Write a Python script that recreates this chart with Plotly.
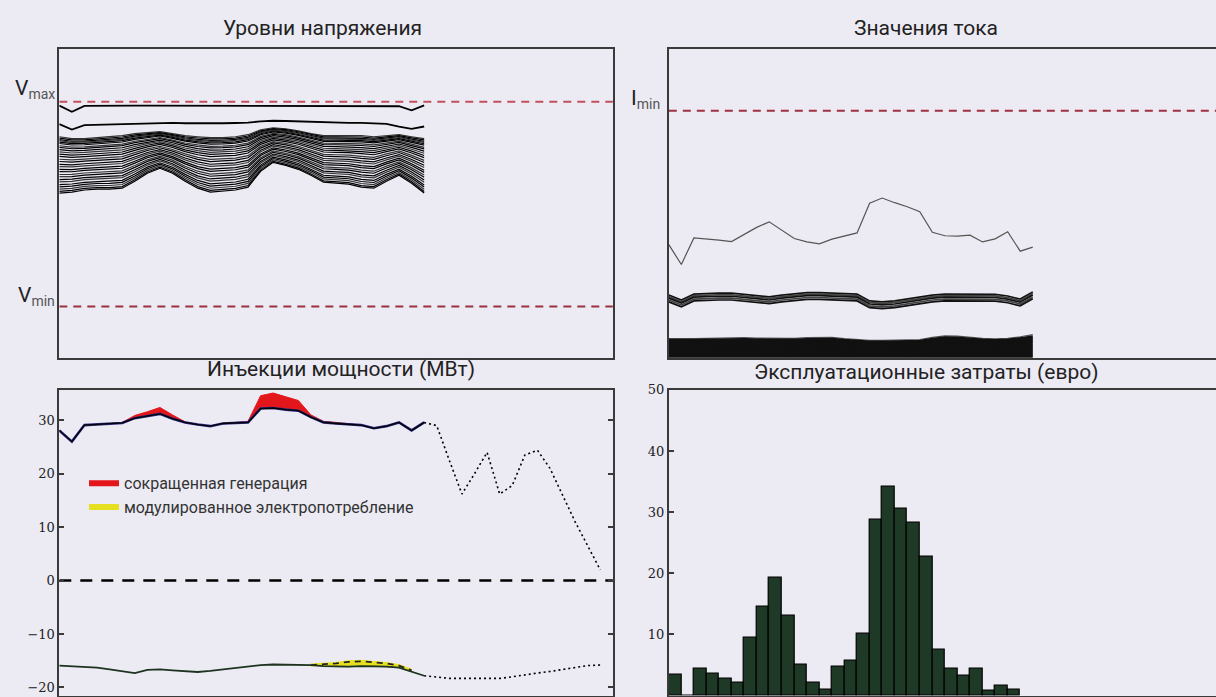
import plotly.graph_objects as go
import numpy as np

W, H = 1216, 697

# ---------------- data ----------------
t_obs = list(range(30))          # observed time steps
t_fc = list(range(29, 44))       # forecast time steps

# Voltage levels (p.u.)
V_MAX, V_MIN = 1.05, 0.95
v_top = [1.0481, 1.0451, 1.0480, 1.0481, 1.0481, 1.0481, 1.0481, 1.0481, 1.0481, 1.0481,
         1.0480, 1.0480, 1.0480, 1.0480, 1.0481, 1.0481, 1.0481, 1.0481, 1.0480, 1.0480,
         1.0480, 1.0480, 1.0480, 1.0480, 1.0480, 1.0480, 1.0480, 1.0478, 1.0458, 1.0482]
v_second = [1.0391, 1.0364, 1.0386, 1.0388, 1.0390, 1.0392, 1.0394, 1.0396, 1.0398, 1.0397,
            1.0395, 1.0394, 1.0394, 1.0395, 1.0396, 1.0398, 1.0404, 1.0407, 1.0406, 1.0404,
            1.0401, 1.0399, 1.0398, 1.0397, 1.0397, 1.0396, 1.0392, 1.0378, 1.0367, 1.0379]
v_bundle_upper = [1.0329, 1.0320, 1.0320, 1.0325, 1.0329, 1.0334, 1.0344, 1.0349, 1.0354, 1.0344,
                  1.0334, 1.0329, 1.0325, 1.0325, 1.0329, 1.0339, 1.0363, 1.0373, 1.0368, 1.0358,
                  1.0344, 1.0334, 1.0334, 1.0334, 1.0334, 1.0329, 1.0334, 1.0339, 1.0329, 1.0320]
v_bundle_lower = [1.0054, 1.0059, 1.0069, 1.0073, 1.0073, 1.0078, 1.0112, 1.0151, 1.0175, 1.0151,
                  1.0112, 1.0078, 1.0059, 1.0064, 1.0069, 1.0083, 1.0160, 1.0204, 1.0189, 1.0170,
                  1.0141, 1.0107, 1.0102, 1.0098, 1.0083, 1.0078, 1.0112, 1.0141, 1.0102, 1.0054]
v_bundle_pos = [0.0, 0.025, 0.05, 0.07, 0.095, 0.12, 0.16, 0.19, 0.23, 0.27, 0.31,
                0.35, 0.40, 0.44, 0.49, 0.53, 0.58, 0.62, 0.67, 0.71, 0.76, 0.80,
                0.85, 0.89, 0.93, 0.97, 1.0]

# Current values (% of limit scale)
I_MIN = 80
i_thin = [36.6, 30.2, 38.8, 38.5, 38.1, 37.6, 40.0, 42.2, 44.0, 41.3,
          38.6, 37.5, 36.9, 38.4, 39.3, 40.4, 50.0, 51.7, 50.2, 48.9,
          47.3, 40.6, 39.5, 39.4, 39.7, 37.5, 38.5, 40.8, 34.5, 35.8]
i_mid = [19.0, 17.4, 19.3, 19.5, 19.6, 19.6, 19.2, 18.7, 18.4, 19.0,
         19.5, 19.8, 19.8, 19.6, 19.5, 19.3, 17.1, 16.8, 17.1, 17.7,
         18.4, 19.0, 19.3, 19.3, 19.3, 19.3, 19.2, 18.7, 17.7, 20.0]
i_mid_offsets = [1.3, 0.8, 0.3, -0.3, -0.9]
i_low_upper = [6.2, 6.1, 6.2, 6.3, 6.4, 6.5, 6.5, 6.4, 6.3, 6.2,
               6.3, 6.5, 6.6, 6.6, 6.2, 5.8, 5.6, 5.6, 5.7, 5.8,
               5.9, 6.6, 7.1, 7.0, 6.6, 6.3, 6.1, 6.3, 6.8, 7.5]
i_low_pos = [1.0, 0.92, 0.84, 0.76, 0.68, 0.6, 0.52, 0.44, 0.36, 0.28, 0.2, 0.12, 0.05]

# Power injections (MW)
p_gen = [28.1, 26.0, 29.1, 29.2, 29.3, 29.5, 30.4, 30.8, 31.2, 30.3,
         29.6, 29.2, 28.9, 29.4, 29.5, 29.6, 32.2, 32.3, 32.0, 31.8,
         30.6, 29.6, 29.4, 29.2, 29.1, 28.5, 28.9, 29.6, 28.1, 29.6]
p_gen_avail = [28.1, 26.0, 29.1, 29.2, 29.3, 29.6, 30.9, 31.6, 32.4, 31.0,
               29.7, 29.2, 28.9, 29.4, 29.6, 29.8, 34.6, 35.1, 34.4, 33.7,
               31.0, 29.8, 29.6, 29.3, 29.1, 28.5, 28.9, 29.6, 28.1, 29.6]
p_gen_fc = [29.6, 29.0, 22.5, 16.2, 20.0, 24.0, 16.2, 17.8, 23.5, 24.4,
            21.0, 16.0, 11.0, 6.5, 2.0]
p_load = [-15.9, -16.0, -16.1, -16.3, -16.6, -17.0, -17.3, -16.7, -16.6, -16.8,
          -17.0, -17.1, -16.9, -16.6, -16.3, -16.0, -15.8, -15.7, -15.7, -15.8,
          -15.8, -16.0, -16.1, -16.1, -16.0, -16.0, -16.1, -16.3, -17.0, -17.8]
t_mod = list(range(20, 29))
p_load_orig = [-15.8, -15.7, -15.5, -15.2, -15.1, -15.3, -15.5, -15.9, -16.8]
p_load_fc = [-17.8, -18.1, -18.3, -18.3, -18.3, -18.3, -18.3, -18.0, -17.6, -17.3,
             -17.0, -16.6, -16.2, -15.9, -15.8]

# Operating costs (euro)
cost_t = [i + 0.5 for i in range(28)]
cost = [3.4, 0.0, 4.4, 3.5, 2.7, 2.1, 9.5, 14.5, 19.3, 13.0,
        5.0, 2.1, 0.9, 4.7, 5.7, 10.1, 28.7, 34.2, 30.6, 28.3,
        22.7, 7.5, 4.3, 3.3, 4.4, 0.8, 1.65, 1.0]

labels_legend = ["сокращенная генерация", "модулированное электропотребление"]
titles = ["Уровни напряжения", "Значения тока",
          "Инъекции мощности (МВт)", "Эксплуатационные затраты (евро)"]

# ---------------- figure ----------------
BG = "#ecebf4"
AX = "#3a3a3a"
def px(x): return x / W
def py(y): return 1 - y / H

fig = go.Figure()

# Top-left: voltages
xa, ya = "x", "y"
fig.add_trace(go.Scatter(x=[0, 44], y=[V_MAX, V_MAX], mode="lines",
                         line=dict(color="#c0505a", width=2, dash="8px,6px"),
                         xaxis=xa, yaxis=ya, showlegend=False))
fig.add_trace(go.Scatter(x=[0, 44], y=[V_MIN, V_MIN], mode="lines",
                         line=dict(color="#9a3040", width=2, dash="8px,6px"),
                         xaxis=xa, yaxis=ya, showlegend=False))
up = np.array(v_bundle_upper)
lo = np.array(v_bundle_lower)
for k, f in enumerate(v_bundle_pos):
    fig.add_trace(go.Scatter(x=t_obs, y=up + f * (lo - up), mode="lines",
                             line=dict(color="black" if k % 3 else "#333", width=1.2),
                             xaxis=xa, yaxis=ya, showlegend=False))
for arr in (v_top, v_second):
    fig.add_trace(go.Scatter(x=t_obs, y=arr, mode="lines",
                             line=dict(color="black", width=1.8),
                             xaxis=xa, yaxis=ya, showlegend=False))

# Top-right: currents
xa, ya = "x2", "y2"
fig.add_trace(go.Scatter(x=[0, 44], y=[I_MIN, I_MIN], mode="lines",
                         line=dict(color="#a03040", width=2, dash="8px,6px"),
                         xaxis=xa, yaxis=ya, showlegend=False))
iu = np.array(i_low_upper)
for f in i_low_pos:
    fig.add_trace(go.Scatter(x=t_obs, y=iu * f, mode="lines",
                             line=dict(color="#111" if f < 1 else "#555", width=2.6 if f < 1 else 1.2),
                             xaxis=xa, yaxis=ya, showlegend=False))
im = np.array(i_mid)
for k, off in enumerate(i_mid_offsets):
    fig.add_trace(go.Scatter(x=t_obs, y=im + off, mode="lines",
                             line=dict(color="#111" if k % 2 == 0 else "#444", width=1.7),
                             xaxis=xa, yaxis=ya, showlegend=False))
fig.add_trace(go.Scatter(x=t_obs, y=i_thin, mode="lines",
                         line=dict(color="#555", width=1.2),
                         xaxis=xa, yaxis=ya, showlegend=False))

# Bottom-left: power injections
xa, ya = "x3", "y3"
fig.add_trace(go.Scatter(x=[0, 44], y=[0, 0], mode="lines",
                         line=dict(color="black", width=2.5, dash="12px,9px"),
                         xaxis=xa, yaxis=ya, showlegend=False))
fig.add_trace(go.Scatter(x=t_obs, y=p_gen, mode="lines",
                         line=dict(color="#2a2a80", width=0.5),
                         xaxis=xa, yaxis=ya, showlegend=False))
fig.add_trace(go.Scatter(x=t_obs, y=p_gen_avail, mode="lines", fill="tonexty",
                         fillcolor="#e3161b", line=dict(color="#e3161b", width=1),
                         xaxis=xa, yaxis=ya, showlegend=False))
fig.add_trace(go.Scatter(x=t_obs, y=p_gen, mode="lines",
                         line=dict(color="#2a2a80", width=2.6),
                         xaxis=xa, yaxis=ya, showlegend=False))
fig.add_trace(go.Scatter(x=t_obs, y=p_gen, mode="lines",
                         line=dict(color="black", width=1.3),
                         xaxis=xa, yaxis=ya, showlegend=False))
fig.add_trace(go.Scatter(x=t_fc, y=p_gen_fc, mode="lines",
                         line=dict(color="black", width=1.6, dash="2px,3px"),
                         xaxis=xa, yaxis=ya, showlegend=False))
fig.add_trace(go.Scatter(x=t_mod, y=p_load[20:29], mode="lines",
                         line=dict(color="#1d3320", width=0.5),
                         xaxis=xa, yaxis=ya, showlegend=False))
fig.add_trace(go.Scatter(x=t_mod, y=p_load_orig, mode="lines", fill="tonexty",
                         fillcolor="#e6e020", line=dict(color="#e6e020", width=3),
                         xaxis=xa, yaxis=ya, showlegend=False))
fig.add_trace(go.Scatter(x=t_mod, y=p_load_orig, mode="lines",
                         line=dict(color="#222", width=1.8, dash="6px,5px"),
                         xaxis=xa, yaxis=ya, showlegend=False))
fig.add_trace(go.Scatter(x=t_obs, y=p_load, mode="lines",
                         line=dict(color="#1d3320", width=1.8),
                         xaxis=xa, yaxis=ya, showlegend=False))
fig.add_trace(go.Scatter(x=t_fc, y=p_load_fc, mode="lines",
                         line=dict(color="black", width=1.6, dash="2px,3px"),
                         xaxis=xa, yaxis=ya, showlegend=False))
fig.add_trace(go.Scatter(x=[None], y=[None], mode="lines", name=labels_legend[0],
                         line=dict(color="#e3161b", width=6), xaxis=xa, yaxis=ya))
fig.add_trace(go.Scatter(x=[None], y=[None], mode="lines", name=labels_legend[1],
                         line=dict(color="#e6e020", width=6), xaxis=xa, yaxis=ya))

# Bottom-right: operating costs
fig.add_trace(go.Bar(x=cost_t, y=cost, width=1.0, marker=dict(color="#1e3a26",
                     line=dict(color="black", width=1.2)),
                     xaxis="x4", yaxis="y4", showlegend=False))

# ---------------- axes ----------------
XL = [px(59.3), px(612.9)]
XR = [px(668.8), 1.0]
YT = [py(354.3), py(42.3)]
YB = [py(695.5), py(386.7)]

common_x = dict(showgrid=False, zeroline=False, showticklabels=False, ticks="",
                showline=True, linecolor=AX, linewidth=1.6, mirror=True)
tickfont = dict(family="DejaVu Serif", size=13, color="#222")

fig.update_layout(
    xaxis=dict(domain=XL, range=[0, 44], anchor="y", **common_x),
    yaxis=dict(domain=YT, range=[0.925, 1.0758], anchor="x", showgrid=False, zeroline=False,
               showticklabels=False, ticks="", showline=True, linecolor=AX,
               linewidth=1.6, mirror=True),
    xaxis2=dict(domain=XR, range=[0, 43.6], anchor="y2", **common_x),
    yaxis2=dict(domain=YT, range=[0, 100], anchor="x2", showgrid=False, zeroline=False,
                showticklabels=False, ticks="", showline=True, linecolor=AX,
                linewidth=1.6, mirror=False),
    xaxis3=dict(domain=XL, range=[0, 44], anchor="y3", **common_x),
    yaxis3=dict(domain=YB, range=[-21.5, 35.7], anchor="x3", showgrid=False, zeroline=False,
                tickvals=[-20, -10, 0, 10, 20, 30], ticks="inside", ticklen=5,
                tickwidth=1.5, tickcolor=AX, showline=True, linecolor=AX,
                linewidth=1.6, mirror="ticks", tickfont=tickfont),
    xaxis4=dict(domain=XR, range=[0, 43.6], anchor="y4", **common_x),
    yaxis4=dict(domain=YB, range=[0, 50], anchor="x4", showgrid=False, zeroline=False,
                tickvals=[0, 10, 20, 30, 40, 50], ticks="inside", ticklen=5,
                tickwidth=1.5, tickcolor=AX, showline=True, linecolor=AX,
                linewidth=1.6, mirror=False, tickfont=tickfont),
)

title_font = dict(family="Roboto", size=21, color="#222")
title_pos = [(322, 21), (926, 21), (341, 366), (926, 369)]
ann = []
for txt, (x, y) in zip(titles, title_pos):
    ann.append(dict(text=txt, x=px(x), y=py(y), xref="paper", yref="paper",
                    xanchor="center", yanchor="middle", showarrow=False, font=title_font))
lab_font = dict(family="Roboto", size=21, color="#222")
SUB = "<sub><span style='font-size:14px;color:#555'>%s</span></sub>"
ann.append(dict(text="V" + SUB % "max", x=px(57), y=py(83), xref="paper", yref="paper",
                xanchor="right", yanchor="middle", showarrow=False, font=lab_font))
ann.append(dict(text="V" + SUB % "min", x=px(57), y=py(292), xref="paper", yref="paper",
                xanchor="right", yanchor="middle", showarrow=False, font=lab_font))
ann.append(dict(text="I" + SUB % "min", x=px(662), y=py(93), xref="paper", yref="paper",
                xanchor="right", yanchor="middle", showarrow=False, font=lab_font))

fig.update_layout(
    width=W, height=H, margin=dict(l=0, r=0, t=0, b=0),
    paper_bgcolor=BG, plot_bgcolor=BG, annotations=ann, bargap=0,
    legend=dict(x=px(84), y=py(464), xanchor="left", yanchor="top", traceorder="normal",
                bgcolor="rgba(0,0,0,0)", font=dict(family="Roboto", size=16, color="#333")),
)

fig.write_html("out.html", config={"displayModeBar": False},
               post_script="document.body.style.margin='0';document.body.style.overflow='hidden';")
